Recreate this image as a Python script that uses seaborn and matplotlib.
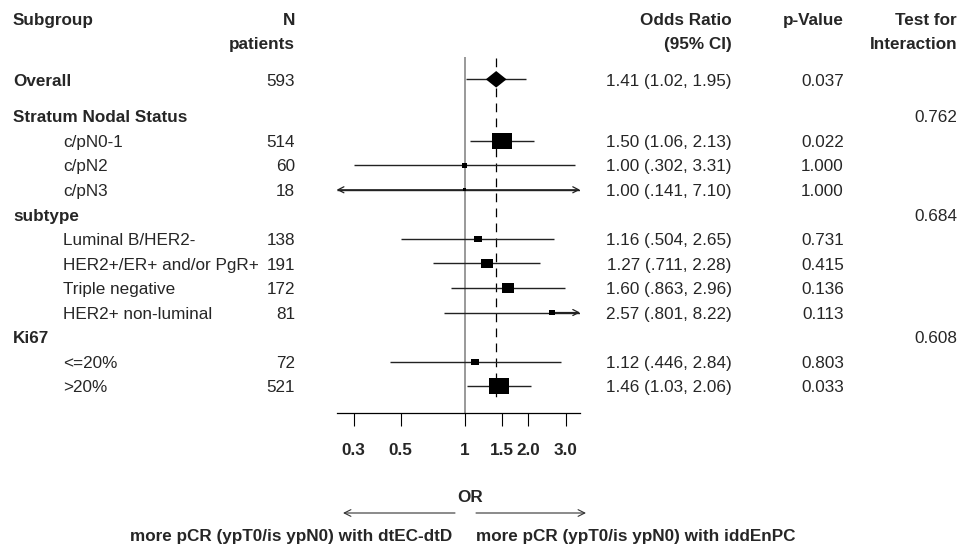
import numpy as np
import pandas as pd
import matplotlib
matplotlib.use("Agg")
import matplotlib.pyplot as plt
import seaborn as sns
from matplotlib.path import Path
from matplotlib import transforms
from matplotlib.patches import FancyArrowPatch
from matplotlib.ticker import NullLocator

# --- data ---
subgroups = ["Overall", "Stratum Nodal Status", "c/pN0-1", "c/pN2", "c/pN3",
             "subtype", "Luminal B/HER2-", "HER2+/ER+ and/or PgR+", "Triple negative",
             "HER2+ non-luminal", "Ki67", "<=20%", ">20%"]
level = [0, 0, 1, 1, 1, 0, 1, 1, 1, 1, 0, 1, 1]
n_patients = [593, None, 514, 60, 18, None, 138, 191, 172, 81, None, 72, 521]
odds_ratio = [1.41, np.nan, 1.50, 1.00, 1.00, np.nan, 1.16, 1.27, 1.60, 2.57, np.nan, 1.12, 1.46]
ci_low = [1.02, np.nan, 1.06, 0.302, 0.141, np.nan, 0.504, 0.711, 0.863, 0.801, np.nan, 0.446, 1.03]
ci_high = [1.95, np.nan, 2.13, 3.31, 7.10, np.nan, 2.65, 2.28, 2.96, 8.22, np.nan, 2.84, 2.06]
p_values = ["0.037", "", "0.022", "1.000", "1.000", "", "0.731", "0.415", "0.136",
            "0.113", "", "0.803", "0.033"]
interaction = ["", "0.762", "", "", "", "0.684", "", "", "", "", "0.608", "", ""]
tick_values = [0.3, 0.5, 1, 1.5, 2, 3]
tick_labels = ["0.3", "0.5", "1", "1.5", "2.0", "3.0"]
left_note = "more pCR (ypT0/is ypN0) with dtEC-dtD"
right_note = "more pCR (ypT0/is ypN0) with iddEnPC"

# row positions (gap after Overall)
pos = [0.0] + [1.5 + i for i in range(len(subgroups) - 1)]

df = pd.DataFrame({"label": subgroups, "level": level, "pos": pos,
                   "odds": odds_ratio, "lo": ci_low, "hi": ci_high})
# box size ~ inverse variance weight
se = (np.log(df["hi"]) - np.log(df["lo"])) / 3.92
df["weight"] = 1 / se ** 2


def fmt(v):
    return f"{v:.3f}"[1:] if v < 1 else f"{v:.2f}"


sns.set_theme(style="white")
plt.rcParams['font.family'] = ['Liberation Sans', 'DejaVu Sans']
fs = 12.3

W, H = 963, 550
fig = plt.figure(figsize=(W / 100, H / 100), dpi=100)
fig.patch.set_facecolor("white")

row_px, top_px, axis_px = 24.55, 79.3, 413


def px2pos(y):
    return (y - top_px) / row_px


ax = fig.add_axes([336.7 / W, 1 - axis_px / H, (580 - 336.7) / W, axis_px / H])
ax.set_facecolor("none")
ax.set_xscale("log")
xmin, xmax = 0.25, 3.5
ax.set_xlim(xmin, xmax)
ax.set_ylim(px2pos(axis_px), px2pos(0))

# reference lines
ax.vlines(1, px2pos(57), px2pos(axis_px), color="#888888", lw=1.2)
ax.vlines(odds_ratio[0], px2pos(58), px2pos(403), color="black", lw=0.9,
          linestyles=(0, (7, 5)))

arrow_kw = dict(arrowstyle="->,head_length=0.35,head_width=0.18", lw=0.9,
                color="#222222", shrinkA=0, shrinkB=0)
est = df.dropna(subset=["odds"])
for _, r in est.iterrows():
    lo_c, hi_c = max(r["lo"], xmin), min(r["hi"], xmax)
    ax.hlines(r["pos"], lo_c, hi_c, color="#222222", lw=1.0)
    if r["lo"] < xmin:
        ax.annotate("", xy=(xmin, r["pos"]), xytext=(r["odds"], r["pos"]),
                    arrowprops=arrow_kw, annotation_clip=False)
    if r["hi"] > xmax:
        ax.annotate("", xy=(xmax, r["pos"]), xytext=(r["odds"], r["pos"]),
                    arrowprops=arrow_kw, annotation_clip=False)

box = Path([(-1, -0.8), (1, -0.8), (1, 0.8), (-1, 0.8), (-1, -0.8)], closed=True)
diamond = Path([(-1, 0), (0, 0.8), (1, 0), (0, -0.8), (-1, 0)], closed=True)

sub = est[est["level"] == 1]
k = 6.6
sns.scatterplot(data=sub, x="odds", y="pos", size="weight",
                sizes=(k * sub["weight"].min(), k * sub["weight"].max()),
                marker=box, color="black", edgecolor="none", linewidth=0,
                legend=False, ax=ax, zorder=3)
sns.scatterplot(data=est[est["level"] == 0], x="odds", y="pos", s=222,
                marker=diamond, color="black", edgecolor="none", linewidth=0,
                legend=False, ax=ax, zorder=3)

# axis styling
for s in ["left", "top", "right"]:
    ax.spines[s].set_visible(False)
ax.spines["bottom"].set_color("black")
ax.spines["bottom"].set_linewidth(0.9)
ax.set_yticks([])
ax.set_xticks(tick_values)
ax.set_xticklabels(tick_labels, fontweight="bold")
ax.xaxis.set_minor_locator(NullLocator())
ax.tick_params(axis="x", bottom=True, direction="out", length=9.4, width=0.8,
               color="black", pad=12, labelsize=fs)
ax.set_xlabel("")
ax.set_ylabel("")

# text columns
blend = transforms.blended_transform_factory(fig.transFigure, ax.transData)
dy = 0.07
for i, r in df.iterrows():
    y = r["pos"] + dy
    bold = r["level"] == 0
    ax.text((13 if bold else 63) / W, y, r["label"], transform=blend, ha="left",
            va="center", fontsize=fs, fontweight="bold" if bold else "normal")
    if n_patients[i] is not None:
        ax.text(295 / W, y, str(n_patients[i]), transform=blend, ha="right",
                va="center", fontsize=fs)
    if not np.isnan(r["odds"]):
        ax.text(731.7 / W, y, f"{fmt(r['odds'])} ({fmt(r['lo'])}, {fmt(r['hi'])})",
                transform=blend, ha="right", va="center", fontsize=fs)
    ax.text(844 / W, y, p_values[i], transform=blend, ha="right", va="center", fontsize=fs)
    ax.text(957 / W, y, interaction[i], transform=blend, ha="right", va="center", fontsize=fs)

# header
h1, h2 = px2pos(20.7), px2pos(45)
hdr = dict(transform=blend, va="center", fontsize=fs, fontweight="bold")
ax.text(13 / W, h1, "Subgroup", ha="left", **hdr)
ax.text(295 / W, h1, "N", ha="right", **hdr)
ax.text(295 / W, h2, "patients", ha="right", **hdr)
ax.text(731.7 / W, h1, "Odds Ratio", ha="right", **hdr)
ax.text(731.7 / W, h2, "(95% CI)", ha="right", **hdr)
ax.text(844 / W, h1, "p-Value", ha="right", **hdr)
ax.text(957 / W, h1, "Test for", ha="right", **hdr)
ax.text(957 / W, h2, "Interaction", ha="right", **hdr)

# bottom annotation
fig.text(470 / W, 1 - 497 / H, "OR", ha="center", va="center", fontsize=fs,
         fontweight="bold")
dir_kw = dict(arrowstyle="->,head_length=0.4,head_width=0.2", lw=0.8,
              color="#333333", shrinkA=0, shrinkB=0, mutation_scale=12)
fig.add_artist(FancyArrowPatch((455 / W, 1 - 513 / H), (343 / W, 1 - 513 / H),
                               transform=fig.transFigure, **dir_kw))
fig.add_artist(FancyArrowPatch((476 / W, 1 - 513 / H), (586 / W, 1 - 513 / H),
                               transform=fig.transFigure, **dir_kw))
fig.text(452 / W, 1 - 537 / H, left_note, ha="right", va="center", fontsize=fs,
         fontweight="bold")
fig.text(476 / W, 1 - 537 / H, right_note, ha="left", va="center", fontsize=fs,
         fontweight="bold")

fig.savefig("out.png", dpi=100, facecolor="white")
